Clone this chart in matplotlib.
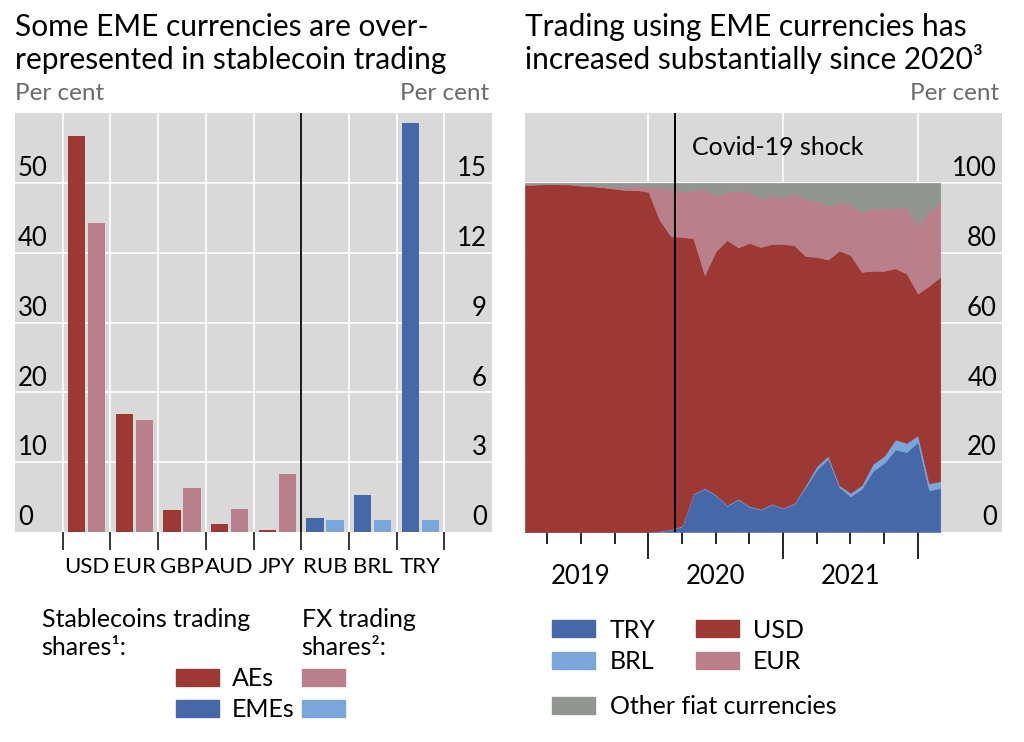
import matplotlib
matplotlib.use("Agg")
import matplotlib.pyplot as plt
import numpy as np
from matplotlib.patches import Rectangle

plt.rcParams["font.family"] = ["Lato", "DejaVu Sans"]

RED = "#9c3934"
PINK = "#b9808b"
BLUE = "#4568a8"
LBLUE = "#7aa6da"
GREY = "#919691"
BG = "#d9d9d9"
LABEL_GREY = "#6b6b6b"

# left panel: stablecoin vs FX trading shares
currencies = ["USD", "EUR", "GBP", "AUD", "JPY", "RUB", "BRL", "TRY"]
ae_stable = [56.7, 16.9, 3.2, 1.1, 0.25]      # per cent, left scale
ae_fx = [44.2, 16.1, 6.3, 3.25, 8.3]
eme_stable = [0.6, 1.6, 17.55]                # per cent, right scale
eme_fx = [0.5, 0.5, 0.5]
left_ticks = [0, 10, 20, 30, 40, 50]
right_ticks = [0, 3, 6, 9, 12, 15]

# right panel: monthly shares of fiat currencies in stablecoin trading
# month number counted from Jan 2019 (1 = Feb 2019)
months = np.arange(1, 39)
try_share = [0, 0, 0, 0, 0, 0, 0, 0, 0, 0, 0, 0.05, 0.2, 0.7, 1.6, 10.8, 12.4, 10.5,
             7.5, 9.3, 7.2, 6.4, 7.9, 6.7, 8.1, 12.9, 17.9, 21.0, 12.9, 10.2, 12.4,
             17.5, 19.8, 23.6, 22.9, 25.8, 11.9, 12.6]
brl_share = [0, 0, 0, 0, 0, 0, 0, 0, 0, 0, 0, 0, 0.1, 0.1, 0.2, 0.2, 0.2, 0.2,
             0.2, 0.2, 0.2, 0.2, 0.2, 0.2, 0.2, 0.5, 1.0, 0.8, 0.5, 1.0, 1.0,
             2.0, 2.0, 2.9, 2.6, 1.9, 2.0, 2.0]
usd_share = [99.3, 99.5, 99.6, 99.6, 99.5, 99.2, 99.0, 98.7, 98.3, 97.9, 97.9, 97.35,
             89.0, 83.9, 82.7, 73.1, 61.0, 69.7, 75.9, 72.0, 75.4, 75.0, 74.4, 75.6,
             73.8, 65.6, 59.9, 56.2, 67.2, 68.1, 61.1, 55.3, 53.0, 49.0, 48.5, 40.6,
             56.6, 58.5]
eur_share = [0.4, 0.2, 0.1, 0.1, 0.1, 0.2, 0.2, 0.2, 0.4, 0.7, 1.15, 1.5,
             9.3, 13.5, 12.9, 13.8, 24.6, 15.9, 14.0, 16.2, 14.6, 13.7, 14.0, 13.5,
             14.8, 16.3, 16.1, 15.3, 13.7, 14.8, 16.9, 17.9, 18.0, 17.4, 18.9, 19.4,
             21.5, 21.3]
other_share = list(100 - np.array(try_share) - np.array(brl_share)
                   - np.array(usd_share) - np.array(eur_share))
covid_month = 14.4
year_starts = [12, 24, 36]
quarter_ticks = [3, 6, 9, 15, 18, 21, 27, 30, 33]
year_labels = {"2019": 6, "2020": 18, "2021": 30}
share_ticks = [0, 20, 40, 60, 80, 100]

W, H = 1024, 742
fig = plt.figure(figsize=(W / 100, H / 100), dpi=100)


def box(x0, y0, x1, y1):
    return [x0 / W, 1 - y1 / H, (x1 - x0) / W, (y1 - y0) / H]


TICK_FS = 18.5
CAT_FS = 16
# ---------------- left panel ----------------
ax = fig.add_axes(box(15, 113, 492, 532))
ax.set_facecolor(BG)
ax.set_xlim(0, 10)
ax.set_ylim(0, 60)
ax.set_yticks(left_ticks[1:])
ax.set_yticklabels([])
ax.tick_params(axis="y", length=0)
ax.set_xticks(range(1, 10))
ax.set_xticklabels([])
ax.tick_params(axis="x", length=13, width=1.1, color="black", direction="out")
ax.grid(True, color="white", linewidth=1.2)
ax.set_axisbelow(True)
for s in ax.spines.values():
    s.set_visible(False)
ax.axvline(6, color="#1a1a1a", linewidth=1.4, zorder=1.5)

n_ae = len(ae_stable)
pos_ae = np.arange(n_ae) + 1.5
ax.bar(pos_ae - 0.21, ae_stable, width=0.36, color=RED, zorder=2)
ax.bar(pos_ae + 0.21, ae_fx, width=0.36, color=PINK, zorder=2)

ax2 = ax.twinx()
ax2.set_ylim(0, 18)
ax2.set_yticks([])
for s in ax2.spines.values():
    s.set_visible(False)
pos_eme = np.arange(len(eme_stable)) + n_ae + 1.5
ax2.bar(pos_eme - 0.21, eme_stable, width=0.36, color=BLUE, zorder=2)
ax2.bar(pos_eme + 0.21, eme_fx, width=0.36, color=LBLUE, zorder=2)

for v in left_ticks:
    ax.annotate(str(v), xy=(0, v), xytext=(2.2, 4.8), textcoords="offset points",
                ha="left", va="baseline", fontsize=TICK_FS)
for v in right_ticks:
    ax2.annotate(str(v), xy=(10, v), xytext=(-3.6, 4.8), textcoords="offset points",
                 ha="right", va="baseline", fontsize=TICK_FS)
for i, c in enumerate(currencies):
    ax.annotate(c, xy=(i + 1.5, 0), xytext=(0, -25), textcoords="offset points",
                ha="center", va="center", fontsize=CAT_FS)

ax.annotate("Per cent", xy=(0, 1), xycoords="axes fraction", xytext=(0, 9.4),
            textcoords="offset points", ha="left", va="baseline",
            fontsize=17.5, color=LABEL_GREY)
ax.annotate("Per cent", xy=(1, 1), xycoords="axes fraction", xytext=(-2, 9.4),
            textcoords="offset points", ha="right", va="baseline",
            fontsize=17.5, color=LABEL_GREY)

# ---------------- right panel ----------------
bx = fig.add_axes(box(525, 113, 1002, 532))
bx.set_facecolor(BG)
bx.set_xlim(1, 43.5)
bx.set_ylim(0, 120)
bx.set_yticks(share_ticks[1:])
bx.set_yticklabels([])
bx.tick_params(axis="y", length=0)
bx.set_xticks(year_starts)
bx.set_xticklabels([])
bx.set_xticks(quarter_ticks, minor=True)
bx.tick_params(axis="x", which="major", length=19.5, width=1.2, color="black")
bx.tick_params(axis="x", which="minor", length=8.6, width=1.2, color="black")
bx.grid(True, which="major", color="white", linewidth=1.2)
bx.set_axisbelow(True)
for s in bx.spines.values():
    s.set_visible(False)

layer_colors = [BLUE, LBLUE, RED, PINK, GREY]
polys = bx.stackplot(months, try_share, brl_share, usd_share, eur_share, other_share,
                     colors=layer_colors, linewidth=0.4, zorder=2)
for p, c in zip(polys, layer_colors):
    p.set_edgecolor(c)
bx.axvline(covid_month, color="black", linewidth=1.4, zorder=3)
bx.text(covid_month + 1.5, 110, "Covid-19 shock", ha="left", va="center", fontsize=18)

for v in share_ticks:
    bx.annotate(str(v), xy=(43.5, v), xytext=(-3.6, 4.8), textcoords="offset points",
                ha="right", va="baseline", fontsize=TICK_FS)
for lab, m in year_labels.items():
    bx.annotate(lab, xy=(m, 0), xytext=(0, -32.4), textcoords="offset points",
                ha="center", va="center", fontsize=TICK_FS)
bx.annotate("Per cent", xy=(1, 1), xycoords="axes fraction", xytext=(-2, 9.4),
            textcoords="offset points", ha="right", va="baseline",
            fontsize=17.5, color=LABEL_GREY)

# ---------------- titles ----------------
TITLE_FS = 21.5
fig.text(15 / W, 1 - 36 / H, "Some EME currencies are over-", fontsize=TITLE_FS, va="baseline")
fig.text(15 / W, 1 - 69 / H, "represented in stablecoin trading", fontsize=TITLE_FS, va="baseline")
fig.text(525 / W, 1 - 36 / H, "Trading using EME currencies has", fontsize=TITLE_FS, va="baseline")
fig.text(525 / W, 1 - 69 / H, "increased substantially since 2020³", fontsize=TITLE_FS, va="baseline")

# ---------------- legends ----------------
def swatch(x0, y0, x1, y1, color):
    fig.patches.append(Rectangle((x0 / W, 1 - y1 / H), (x1 - x0) / W, (y1 - y0) / H,
                                 transform=fig.transFigure, color=color, figure=fig))


def label(x, y, s, fs):
    fig.text(x / W, 1 - y / H, s, fontsize=fs, va="baseline")


LEG_L = 18
label(41.7, 626.7, "Stablecoins trading", LEG_L)
label(41.7, 655, "shares¹:", LEG_L)
label(301.7, 626.7, "FX trading", LEG_L)
label(301.7, 655, "shares²:", LEG_L)
swatch(175.7, 669, 219, 685.7, RED)
swatch(301.7, 669, 345, 685.7, PINK)
swatch(175.7, 700, 219, 717.3, BLUE)
swatch(301.7, 700, 345, 717.3, LBLUE)
label(231.7, 685.5, "AEs", LEG_L)
label(231.7, 716.7, "EMEs", LEG_L)

LEG_R = 18
swatch(551.7, 620, 595, 636.7, BLUE)
swatch(551.7, 651.7, 595, 669, LBLUE)
swatch(695.7, 620, 739, 636.7, RED)
swatch(695.7, 651.7, 739, 669, PINK)
swatch(551.7, 696.7, 595, 714, GREY)
label(610, 637.5, "TRY", LEG_R)
label(610, 669, "BRL", LEG_R)
label(753, 637.5, "USD", LEG_R)
label(753, 669, "EUR", LEG_R)
label(610, 714, "Other fiat currencies", LEG_R)

fig.savefig("out.png", dpi=100)
